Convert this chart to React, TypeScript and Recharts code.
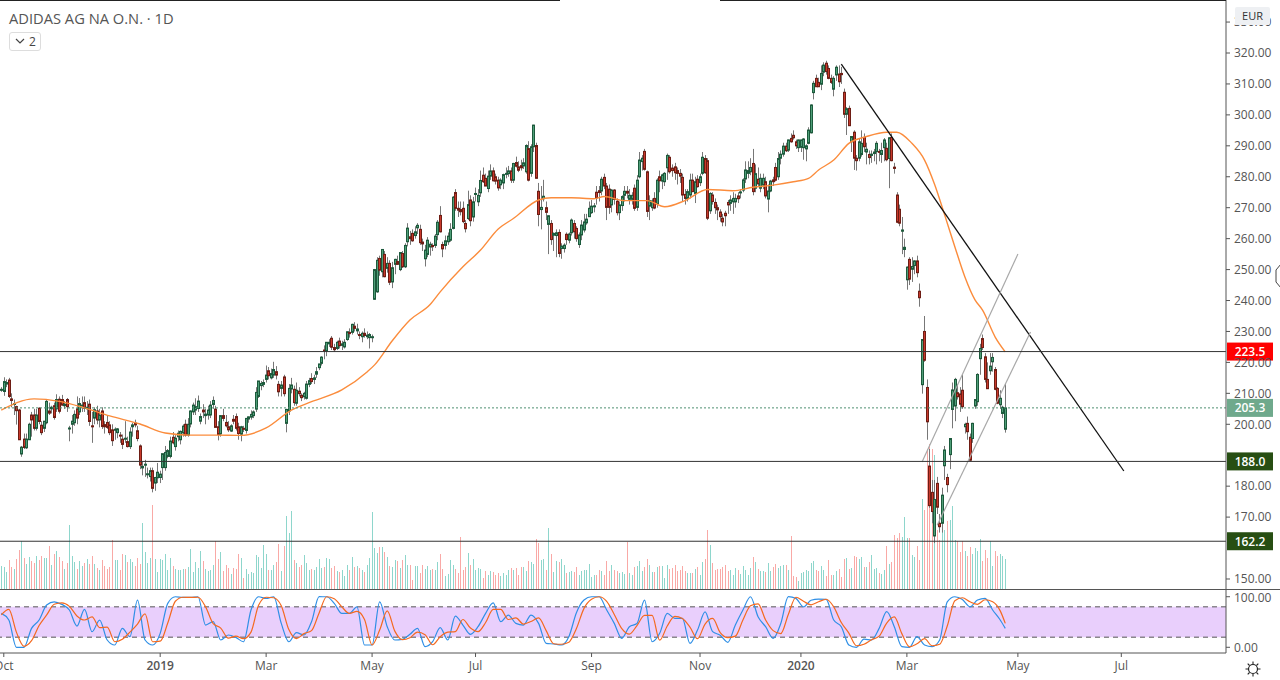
// ADIDAS daily candles with volume, MA and stochastic panel
import { ComposedChart, Bar, Line, XAxis, YAxis, ReferenceLine, ReferenceArea } from "recharts";

const FONT = "'Open Sans', sans-serif";
const SLOTS = 486; // bars plus the empty space to the right of the last one

// [open, high, low, close]
const candlesLate2018 = [
  [211,212,210.5,211.3],[210.6,215.2,209.2,213.8],[213,214.5,212,213.5],[214.3,215,208.5,209],[208.2,210,205.5,207.7],
  [206.5,208,203,206.7],[205.7,206,199.9,204.4],[204.6,205,195,195],[190.4,193,189.5,192.6],[195.2,197,192,192.5],
  [192.4,197,192,195.2],[195,200.5,195,200],[203,204,196,201.4],[203,205,198,198.7],[198.7,205,198,203],
  [205.2,205.5,200,200.9],[199.7,201,196.5,197.3],[198.7,201,197.5,201],[200.5,208,200,207.4],[204.3,207,203,203.6],
  [205,206,203.5,205.5],[206,207,201.5,202.2],[205,209.7,204,208],[208.1,209,203.5,204.2],[208,209.5,206,206.2],
  [206,207.5,205,206.5],[208,208.5,204,205.7],[198.5,199.5,194.5,198.8],[200,203,197,201],[200.5,204.5,199.5,203.2],
  [205,209,200,202],[204,208.5,203,206.7],[206,209,204,206.2],[207,209,204,205.2],[205,207.5,203,205.5],
  [206.5,208,199.5,200.9],[199.5,204,194,199.3],[202,205.5,200,204.7],[204.3,206,200,201.4],[201.4,205,199,203],
  [204.3,205.5,198.5,199.3],[199.9,201,197,199.2],[200.6,203,198.5,199],[199.8,201,196.5,197.3],[198.2,200,193,194.7],
  [198.2,199,195,198.4],[197.3,198.8,195.5,198.5],[196.5,197.5,194,196.4],[195.2,196.7,192,193.5],[195.2,201,194,195.5],
  [194.4,196,192.5,192.8],[192.8,199,192,197.5],[199.2,200.5,196,199.8],[200.4,201.5,199,199.8],[197.9,199.5,194.5,195.4],
  [193,193.5,185.5,186.8],[185.9,188,183.5,186.4],[187,188.5,183,187.1],[184,186,182.5,184],[183.1,186,181.5,185],
  [185,186,178,179.3],[181,183,178.5,182.8],[182.7,187.5,181,184.5],[182.8,185,181,183.9],[186,188,182,190.5],
  [186,193,185,190.9],[189.6,192,189,191.5],[189.6,196,189,194.6],[195.8,197.5,193.5,194],[192.8,196.5,191.5,195.5],
  [196,198,194.5,197.1],[195,198,193.5,197.7],[197.2,200,196,199.4],[200,201.5,196,196.5],[196.5,202,196,200],
];
const candlesEarly2019 = [
  [200.1,204.5,199,204.3],[204,207,203,206.2],[204.6,208.4,203,205.7],[205.1,209.3,204,207.5],[201,203.5,200,202.5],
  [204.6,206.5,202,204],[202.8,205,200,203.3],[203,206,201.5,204.6],[203,207.5,202,206.2],[206.4,209,205,207.7],
  [204.9,206,199,199],[199.2,201,194.8,196.7],[196.9,203,196,202.8],[202.8,205,201,201.9],[200.6,203,199,199.5],
  [199.2,201,197.5,198.2],[197.8,200,197.5,199.5],[201.6,203,200,201],[202.5,203.5,198,198.7],[199.2,200.5,195,197],
  [196.8,199.5,194.5,199.2],[198.7,199.5,197.5,198.5],[198,202,197,201.9],[201.7,202.5,200.5,202.4],[202.3,204.5,201.5,203.2],
  [202.8,204.5,202,204],[204.9,212,204,210.3],[209,214,208.5,214],[212.5,214,211,213.2],[212.9,214.5,212,213.5],
  [214.5,219,213.5,215.9],[217.3,218.5,214.5,215.7],[215,218,214.5,216.4],[215.9,220.2,215,217.7],[217,218.8,214.5,215.9],
  [212.9,214,209,210.5],[211.6,214,209,212.7],[215.3,216,209,209.9],[200.3,205,197.4,204.8],[204.3,213,203,211.6],
  [211.4,215,210,212.7],[211.3,212.5,206,207],[206.8,213.5,206,211],[210.7,212,209,209.9],[209.4,210,207.5,208.6],
  [208.9,210.5,208,210],[208.4,214,208,213],[212.9,215,212,214.1],[214.8,216.5,213,213.8],[214.5,216,213,215],
  [216.2,218.5,215,217],[218.3,219.5,217.5,219.5],[219.7,222,219,221.7],[224,225.5,221,223.7],[223.7,226.5,222,226.5],
  [226,227.5,225,226.5],[227.8,228.5,224,224.9],[224.8,226,223.5,224.1],[224.5,227,224,226.5],[226.9,228,224.5,225.4],
  [225.5,227,224,226],[225,227.5,224.5,226.5],[227.4,230,227,229.9],[229.7,231,228,229.3],[229.7,232.5,229,232.3],
  [231.7,233,230,231],[230.2,232.5,229,230.8],[229,230,227.5,228.7],[228.3,230,226.5,229.4],[229.4,231,228,228.7],
  [228.3,230,227.5,228.8],[228,229.5,224.5,229],[228,229,226.5,228.3],
];
const candlesMid2019 = [
  [240.4,250.2,240.3,250],[242.8,254,242.5,253],[253.6,254.5,248,249.8],[249.3,256.5,247.5,256.5],[254.9,256,247.5,247.7],
  [250.4,254,249,252],[252,253,245,245.9],[246,252.5,244,250.6],[251.7,253.5,248.5,253.3],[252.6,254.5,251.5,251.7],
  [250,255.5,249.5,255.5],[255.2,256,250.5,250.9],[250.9,258.5,250.5,257.8],[259,265,257.5,263.4],[260.6,262.5,258,260],
  [261.7,263,259,259.3],[261,264,260,262.2],[263.5,265,261.5,264.3],[263,264.5,258,258.7],[258.9,260,256,258.3],
  [253.5,258,251,256.3],[254.9,260.5,254,259.5],[257.3,259,254.5,258.2],[257.8,258.5,256,257.4],[257.8,261.5,257,260.8],
  [261.3,266,259.5,265.3],[267.5,270.5,262,262.2],[258.1,259,254,256.7],[257.8,261,256.5,259.3],[259,262,258,260.8],
  [259.5,265,259,263],[263.3,273.8,263,273.4],[274.9,276,269,269.8],[269.8,272,267,269.2],[269.4,272,267.5,268.7],
  [269.8,272,265,265.5],[264.9,266,262,263.2],[266.5,275.5,266,271],[272.5,274,264,265.8],[267,273.5,265.5,271.9],
  [274.4,276.5,272,274.6],[271.9,276,270.5,274],[274.8,282,273.5,278.8],[280.5,283,278,278.4],[279.5,281,277,277],
  [276.2,282,275,280.2],[280.2,284,279,281.9],[281.9,283,278.5,278.7],[280,281,277.5,278.6],[278.9,280,275.5,276.4],
  [277.4,279.5,276,278.9],[278,281,276,280.7],[280.9,283,279.5,281.1],[281,283.5,280,281.9],[281.9,283,278,278.9],
  [278.9,284.5,278,284.3],[284.6,286.5,283,283.4],[283.2,285,281.5,282.1],[283.6,285.5,282,282.9],[283.5,286,282.5,284.5],
  [281.6,290.5,281,290.1],[289.1,291.5,278.5,278.9],[281.1,290.5,280,289.7],[289.7,296.8,288,296.7],[290.1,291,279.5,279.5],
  [275.3,278,264,267.8],[269.4,277,263,270.1],[272.9,279,272,273.7],[270,272,266,268.5],[264.6,267.5,255,267.4],
  [264.9,266,258,259.7],[261.1,262,256,261.7],[261,263,254,261.9],[262,263,254,255.2],[256.8,258.5,253.5,257.6],
  [256.8,258.5,255.5,257.9],[261.4,262,258,259.7],[259.5,262,258.5,261.5],[261.9,266.5,261,266],[264.9,266,260,262.2],
  [263.3,264,259,260],[258.1,262,257,261.2],[261.2,266,259.5,264.4],[262.8,268,262,265.4],[265.1,268,264.5,266.3],
  [267.1,272,267,269.8],[268.4,272.5,268,270.5],[270.4,271.5,268.5,270.6],
];
const candlesLate2019 = [
  [275,277,271,273.2],[275.5,277,272,274.9],[275.4,280,274,279.2],[279.8,281,276,277],[277,278,266,270.1],
  [276,277.5,268,270.1],[270.9,276,268.5,275.7],[275.7,276,271,272.7],[272.1,273,267.5,268.4],[268.4,272,266,270.9],
  [270.7,274,269,273.6],[274,277,272,275.3],[275.3,277,273,274.7],[272.7,276,271,274],[272.7,275,271,274],
  [276.3,277.5,269,269.8],[270.1,280.5,269,278.9],[280,288,279.5,285.4],[284.9,287,282,286],[288.2,289,282,282.4],
  [281.6,282,267,268.8],[270.5,274,266,272.3],[270,273,269,272.2],[273,275,269.5,269.9],[271.2,279.5,270,278.9],
  [280,282,275,278.7],[278.6,281,276,280.6],[278.4,281.5,277,281.1],[282.9,287.5,279,286.9],[286.3,287,281,281.6],
  [282.8,284,280,282],[283.2,284.5,279,281.3],[282,283,277.5,281.1],[281.1,282.5,278,280.2],[279.8,281,272,274.1],
  [274.3,276,271,273],[273,276,272,275.2],[274.1,281,273,278.9],[278.9,281,275,275.2],[274.6,280,271.5,278.4],
  [279.2,280.5,276.5,276.8],[278.1,281,277,280],[281.1,288,280.5,286.3],[285.9,287,281,281.3],[285.2,286,266,266.6],
  [269,275,268,274.6],[274.1,275,271,272],[271.7,273,268,270],[270,271,266,269.3],[268.6,269.5,265.5,267.1],
  [266.6,268,264,265.4],[268.2,269,264,267.4],[271.7,272.5,268,270.9],[271.4,274,269,272.5],[271.9,275,268,273],
  [271.9,274.5,270,273],[273.8,275,271.5,272.9],[275,276,273,275.1],[275.7,279.5,275,279],[279.3,285,278,282.2],
  [281.1,285,279.5,282],[281.6,286,280.5,283],[284.3,289,274,275.2],[276.3,284,275,281],[279.2,283,277,277.7],
  [276.3,281,275,279.5],[277.3,281,276,279.5],[278.4,280,273,273.8],[272.8,277.5,268.5,275.4],[275.4,279,275,278.6],
  [279,280,277,278.4],[283,284.5,278.5,278.9],[280,288,279,285.9],[286,288.5,284,287.3],[287.3,291,286.5,289.9],
  [289.9,291,288,288.4],[288.6,292,288,291.9],[292.4,294,291,291.3],[293.4,295,292,292.6],[291.3,292,289,290],
  [289.4,292,288,291.9],
];
const candles2020 = [
  [289.5,292,288,291.9],[289.4,292.5,285.5,292.2],[289,290.5,285,290],[290.8,296,290.5,295.1],[294.2,303.4,294,303.2],
  [307.2,311,305,310.2],[311.8,313,309,309.1],[310.5,312,309,309.1],[309.9,316,308,313.4],[313.8,317,312.5,316.1],
  [316.7,317.5,313,314],[315,316,311.5,311.8],[311.8,313,310,310.5],[308.3,312.5,306,311.8],[312.9,316,311,315.4],
  [313.2,316,309,310.7],[313.4,315.5,310,313],[307.3,308.5,299,300.2],[300.2,302.5,293.5,302],[302.1,303,296.5,296.5],
  [291.3,293,288,293],[294.4,295,282.2,286],[286,287,282,285.2],[286,292.5,285,291.3],[287.2,295,286.5,290.8],
  [292.7,294,288,289.7],[288,291,284,288.9],[287.2,288.5,284,286.2],[286.9,288.5,284.5,287.3],[287.5,289,285,288],
  [288.1,291.5,284,290.8],[288.2,289,285,288],[287.2,291,284.5,288.5],[289.4,292.5,285,291.9],[289.2,291,285,285.5],
  [285.9,292.8,276.3,292.6],[292.7,294,285,285.2],[283.1,284.5,281,282.7],[274.1,275,265,265.3],[269.5,271,264,265],
  [262.4,267,255,262.8],[256.5,260,254,257.2],[246.7,251,243.5,250.8],[253.3,254,245,246.9],[250.1,254,246,251],
  [251.3,253,248.5,252.8],[252.8,254.5,247.5,249],[243,245.5,238,240.9],[212.8,227.4,209.9,227.4],[230,235,220.2,220.7],
  [211.9,214.5,195,200.8],[186.5,192,173,173.7],[178,182,168,171.8],[163.9,182,161.6,175.7],[180.9,183,171,173.2],
  [168,171,165,166.9],[168,179.5,165,177.1],[186.6,193,182,191.7],[182.8,184,178,180.5],[190.2,195.5,185.5,195.4],
  [204.8,213.5,198.7,211.1],[205.9,215,201,214.5],[210.2,213,208,208.9],[209.8,212,204,206.5],[211,216,205,205.7],
  [199.2,200.5,197,200],[200.3,202.5,195,197.6],[195.8,197,188,188.4],[195.4,200.5,194,200.3],[205.9,208,205,208],
  [207.3,216.5,206,216.1],[221.2,226,216,224.5],[227.7,229,224,224.8],[221.8,223,213.5,214.5],[214.5,220,211.5,211.5],
  [217.3,223,216,218.8],[220.2,223,217,221.6],[217.7,218.5,211,211.3],[211.6,212,206.5,206.8],[206.3,211,205,208.4],
  [203.5,206,202,205.5],[198.4,213,197.3,205.3],
];

const volumes = [
  24,23,18,30,23,21,31,40,49,32,26,33,29,27,34,30,34,32,32,44,25,36,39,33,29,21,27,65,34,28,21,29,24,27,31,26,34,26,22,20,
  30,24,21,23,50,30,30,20,36,35,28,31,28,24,32,26,67,38,27,32,85,31,18,31,30,36,20,32,24,21,20,20,21,21,23,41,18,28,22,39,
  29,21,19,20,25,49,31,38,19,25,22,16,22,21,36,32,12,21,16,18,17,35,33,22,45,36,20,20,25,28,46,19,44,74,57,79,30,27,23,25,
  35,27,20,21,20,23,31,22,23,32,31,22,24,19,
  18,20,14,25,20,33,23,24,22,20,18,25,32,78,42,37,43,43,38,33,24,23,30,29,22,30,35,25,25,10,24,24,17,25,21,24,20,21,20,28,
  36,21,14,16,30,25,21,17,53,20,23,37,25,31,20,22,21,12,19,15,19,18,15,17,14,17,15,20,22,20,22,15,23,23,19,29,28,26,51,47,
  30,31,20,62,36,18,29,28,31,25,17,18,19,18,23,15,19,20,20,26,13,15,15,20,19,15,29,19,25,20,19,17,18,16,48,17,15,23,24,29,
  19,23,31,25,18,18,23,24,24,12,25,21,22,25,19,
  20,24,19,17,17,17,21,23,15,28,31,60,45,27,20,21,21,23,25,19,20,15,22,20,16,24,20,15,22,33,28,21,19,19,18,27,19,23,26,22,
  24,25,25,20,54,14,13,9,17,18,20,19,27,29,20,19,24,20,14,30,15,15,19,21,13,31,32,21,22,34,33,31,33,23,23,28,35,21,22,17,
  16,20,44,26,28,55,52,57,53,73,52,52,35,33,44,30,91,80,141,146,141,135,60,50,70,60,69,70,84,50,49,38,49,39,34,43,36,42,39,51,
  29,40,32,49,24,39,34,36,34,31,
];

// moving average, read at a handful of bars
const maBars = [0,13,23,33,43,55,65,75,85,95,105,115,123,135,145,148,155,162,170,174,183,190,197,203,213,218,226,235,239,247,256,263,271,280,290,298,306,314,320,324,330,336,343,351,355,361,366,370,374,378,382,386,389,394,398];
const maValues = [204.6,208.2,207.4,205.3,202.7,200.1,197.2,196.5,196.5,196.4,198.8,204.6,207.3,211.1,216.9,219.2,227,233.7,238.7,242.8,250.9,256.3,263.1,266.5,272.5,273.2,273.2,272.9,273.6,272.3,272.3,270.3,272.3,275.9,275.5,276.6,277.3,278.4,279.5,282.2,285.4,290.8,293,294.4,294.4,290.8,285.4,277.5,267.6,257.4,247.6,240.2,236.9,228.2,223.4];

// stochastic, one reading every third bar plus the last bar
const stochBars = [0,3,6,9,12,15,18,21,24,27,30,33,36,39,42,45,48,51,54,57,60,63,66,69,72,75,78,81,84,87,90,93,96,99,102,105,108,111,114,117,120,123,126,129,132,135,138,141,144,147,150,153,156,159,162,165,168,171,174,177,180,183,186,189,192,195,198,201,204,207,210,213,216,219,222,225,228,231,234,237,240,243,246,249,252,255,258,261,264,267,270,273,276,279,282,285,288,291,294,297,300,303,306,309,312,315,318,321,324,327,330,333,336,339,342,345,348,351,354,357,360,363,366,369,372,375,378,381,384,387,390,393,396,398];
const stochK = [67,54,0,0,37.4,54,83.5,90,84.9,73.7,42,75,30.8,53.9,14.4,4.5,37.4,21,93.4,14.4,4.5,27.6,86.8,100,98.7,98.7,100,44,50.6,14.4,24.3,19.6,11,73.7,100,96.7,100,47.3,11,28.9,24.3,50.6,100,100,86.8,67,67,80,4.5,4.5,90,40.7,14.4,15.7,25.6,37.4,1.2,11,38.8,14.4,61.8,44,25.6,40.7,67,88,50.6,63.8,47.3,44,63.8,47.3,7.8,6.5,4.5,21,68.4,93.4,100,100,73.7,47.3,17.7,40.7,47,93.4,11,27.6,67,57,57,7.8,34,70,31,24,9.8,44,73.7,100,60.5,40.7,17.7,47,100,96.7,80,93,95.4,94.7,53.9,40.7,4.5,0,16,14.4,37.4,70.4,40.7,1.2,0,21,4.5,1.2,14.4,90,100,94.7,80.3,93.4,96.7,73.7,53.9,37.4];
const stochD = [64,75,30,2,13,43,64,85,88,81,62,54,60,39,40,11,16,30,46,66,11,12,48,91,99,98.7,99,80,47,38,18,22,17,30,83,99,98,82,35,17,27,33,68,100,96,80,67,71,55,4.5,34,72,32,15,19,30,25,5,21,30,31,55,38,31,49,75,75,55,58,46,51,58,33,7,6,10,37,77,95,100,91,65,37,26,43,63,63,14,42,61,57,40,17,46,57,29,19,22,54,82,86,54,33,27,65,99,91,84,90,95,80,49,28,3,6,15,22,48,60,27,1,7,17,3,6,42,92,98,90,85,94,90,72,47.3];

// drawn lines: [bar, price] at both ends
const trendDown = [[333,316.4],[445,184.9]];
const channelUpper = [[365,187.8],[403,255]];
const channelLower = [[371,167.4],[408,229.8]];

const levels = [
  { price: 223.5, color: "#ff0000" },
  { price: 188.0, color: "#274e13" },
  { price: 162.2, color: "#274e13" },
];
const lastPrice = 205.3;

const priceTicks = [150,170,180,200,210,220,230,240,250,260,270,280,290,300,310,320,330];
const stochTicks = [0, 100];
const dateTicks = [1,63,105,147,188,234,277,317,359,403,444];
const dateLabels = ["Oct","2019","Mar","May","Jul","Sep","Nov","2020","Mar","May","Jul"];

const ohlc = [...candlesLate2018, ...candlesEarly2019, ...candlesMid2019, ...candlesLate2019, ...candles2020];

const rows: any[] = Array.from({ length: SLOTS }, (_, idx) => ({ idx }));
ohlc.forEach(([open, high, low, close], i) => {
  Object.assign(rows[i], { open, high, low, close, volume: volumes[i] });
});
maBars.forEach((b, i) => { rows[b].ma = maValues[i]; });
stochBars.forEach((b, i) => { rows[b].k = stochK[i]; rows[b].d = stochD[i]; });
trendDown.forEach(([b, p]) => { rows[b].trendDown = p; });
channelUpper.forEach(([b, p]) => { rows[b].channelUpper = p; });
channelLower.forEach(([b, p]) => { rows[b].channelLower = p; });

function Candle(props: any) {
  const { x, y, width, height, payload } = props;
  if (payload.high == null || !isFinite(y)) return <g />;
  const { open, high, low, close } = payload;
  const up = close >= open;
  const per = height / (high - low);
  const cx = Math.floor(x + width / 2) + 0.5;
  const top = y + (high - Math.max(open, close)) * per;
  const bodyH = Math.max(Math.abs(open - close) * per, 1);
  return (
    <g>
      <line x1={cx} x2={cx} y1={y} y2={y + height} stroke="#777" strokeWidth={1} />
      <rect x={cx - 1} y={top} width={2} height={bodyH}
        fill={up ? "#4f9e78" : "#c8392b"} stroke={up ? "#1c5a3c" : "#6e1d14"} strokeWidth={1} />
    </g>
  );
}

function VolumeBar(props: any) {
  const { x, y, width, height, payload } = props;
  if (payload.volume == null || !isFinite(y)) return <g />;
  const cx = Math.floor(x + width / 2);
  return <rect x={cx} y={y} width={1} height={height} fill={payload.close >= payload.open ? "#8ed6cc" : "#f9a9a6"} />;
}

function PriceTag({ viewBox, text, color }: any) {
  const yc = viewBox.y;
  const left = viewBox.x + viewBox.width + 1;
  return (
    <g>
      <rect x={left} y={yc - 9} width={46} height={18} fill={color} />
      <text x={left + 23} y={yc + 4.5} textAnchor="middle" fontSize={12} fontWeight={600} fontFamily={FONT} fill="#fff">{text}</text>
    </g>
  );
}

function DateTick({ x, y, payload }: any) {
  const label = dateLabels[dateTicks.indexOf(payload.value)];
  const year = label === "2019" || label === "2020";
  return (
    <text x={x} y={y + 11} textAnchor="middle" fontSize={12} fontWeight={year ? 600 : 400} fontFamily={FONT} fill="#555">{label}</text>
  );
}

const axisTick = { fill: "#555", fontSize: 12, fontFamily: FONT };

export default function App() {
  return (
    <div style={{ position: "absolute", left: 0, top: 0, width: 1280, height: 680, background: "#fff", overflow: "hidden" }}>
      <div style={{ position: "absolute", left: 0, top: 0 }}>
        <ComposedChart width={1280} height={590} data={rows} barCategoryGap={0} barGap={0}
          margin={{ top: 0, right: 0, bottom: 0, left: 0 }}>
          <XAxis xAxisId="main" dataKey="idx" type="category" scale="band" hide />
          <XAxis xAxisId="vol" dataKey="idx" type="category" scale="band" hide />
          <YAxis yAxisId="price" orientation="right" width={54} domain={[146.44, 337.13]} allowDataOverflow
            ticks={priceTicks} interval={0} tickFormatter={(v) => v.toFixed(2)} tick={axisTick}
            stroke="#555" tickSize={4} tickMargin={4} />
          <YAxis yAxisId="vol" hide domain={[0, 590]} allowDataOverflow />
          <Bar xAxisId="vol" yAxisId="vol" dataKey="volume" shape={VolumeBar} isAnimationActive={false} />
          <Line xAxisId="main" yAxisId="price" dataKey="ma" type="monotone" stroke="#fb8c3c" strokeWidth={1.4} dot={false} connectNulls isAnimationActive={false} />
          <Bar xAxisId="main" yAxisId="price" dataKey={(d: any) => (d.high == null ? null : [d.low, d.high])} shape={Candle} isAnimationActive={false} />
          <Line xAxisId="main" yAxisId="price" dataKey="trendDown" stroke="#111" strokeWidth={1.3} dot={false} connectNulls isAnimationActive={false} />
          <Line xAxisId="main" yAxisId="price" dataKey="channelUpper" stroke="#a8a8a8" strokeWidth={1.2} dot={false} connectNulls isAnimationActive={false} />
          <Line xAxisId="main" yAxisId="price" dataKey="channelLower" stroke="#a8a8a8" strokeWidth={1.2} dot={false} connectNulls isAnimationActive={false} />
          <ReferenceLine xAxisId="main" yAxisId="price" y={lastPrice} stroke="#4f8f70" strokeDasharray="2 2"
            label={(p: any) => <PriceTag viewBox={p.viewBox} text={lastPrice.toFixed(1)} color="#6fa98c" />} />
          {levels.map((l) => (
            <ReferenceLine key={l.price} xAxisId="main" yAxisId="price" y={l.price} stroke="#333" strokeWidth={1}
              label={(p: any) => <PriceTag viewBox={p.viewBox} text={l.price.toFixed(1)} color={l.color} />} />
          ))}
        </ComposedChart>
      </div>
      <div style={{ position: "absolute", left: 0, top: 590 }}>
        <ComposedChart width={1280} height={90} data={rows} margin={{ top: 0, right: 0, bottom: 0, left: 0 }}>
          <XAxis dataKey="idx" type="category" scale="band" height={27} ticks={dateTicks} interval={0}
            tick={<DateTick />} stroke="#555" tickSize={4} />
          <YAxis orientation="right" width={54} domain={[-11.3, 113.3]} allowDataOverflow ticks={stochTicks}
            tickFormatter={(v) => v.toFixed(2)} tick={axisTick} stroke="#555" tickSize={4} tickMargin={4} />
          <ReferenceArea y1={20} y2={80} fill="#e9cffc" fillOpacity={1} stroke="none" />
          <ReferenceLine y={80} stroke="#555" strokeDasharray="5 4" />
          <ReferenceLine y={20} stroke="#555" strokeDasharray="5 4" />
          <Line dataKey="k" type="monotone" stroke="#2f8fe6" strokeWidth={1.2} dot={false} connectNulls isAnimationActive={false} />
          <Line dataKey="d" type="monotone" stroke="#f4691f" strokeWidth={1.2} dot={false} connectNulls isAnimationActive={false} />
        </ComposedChart>
      </div>

      {/* frame and header */}
      <div style={{ position: "absolute", left: 0, top: 0, width: 560, height: 1, background: "#222" }} />
      <div style={{ position: "absolute", left: 720, top: 0, width: 506, height: 1, background: "#222" }} />
      <div style={{ position: "absolute", left: 0, top: 589, width: 1280, height: 1, background: "#555" }} />
      <div style={{ position: "absolute", left: 9, top: 8, fontFamily: FONT, fontSize: 14.7, color: "#555", whiteSpace: "nowrap" }}>
        ADIDAS AG NA O.N. · 1D
      </div>
      <div style={{ position: "absolute", left: 9, top: 32, width: 30, height: 17, border: "1px solid #ddd", borderRadius: 3, background: "#fff",
        fontFamily: FONT, fontSize: 12, color: "#444", lineHeight: "17px" }}>
        <svg width={10} height={8} style={{ position: "absolute", left: 5, top: 5 }}>
          <polyline points="1,1 5,5 9,1" fill="none" stroke="#444" strokeWidth={1.2} />
        </svg>
        <span style={{ position: "absolute", left: 19 }}>2</span>
      </div>
      <div style={{ position: "absolute", left: 1235, top: 7, width: 35, height: 18, background: "#eef0f3", borderRadius: 2,
        fontFamily: FONT, fontSize: 11, color: "#333", textAlign: "center", lineHeight: "18px" }}>EUR</div>
      <svg width={8} height={26} style={{ position: "absolute", left: 1274, top: 263 }}>
        <polyline points="7,1 2,7 2,19 7,25" fill="none" stroke="#444" strokeWidth={1} />
      </svg>
      <svg width={16} height={16} style={{ position: "absolute", left: 1245, top: 661 }}>
        <circle cx={8} cy={8} r={4.5} fill="none" stroke="#222" strokeWidth={1.2} />
        <path d="M8 0.5V3M8 13V15.5M0.5 8H3M13 8H15.5M2.7 2.7L4.5 4.5M11.5 11.5L13.3 13.3M2.7 13.3L4.5 11.5M11.5 4.5L13.3 2.7" stroke="#222" strokeWidth={1.1} />
      </svg>
    </div>
  );
}
